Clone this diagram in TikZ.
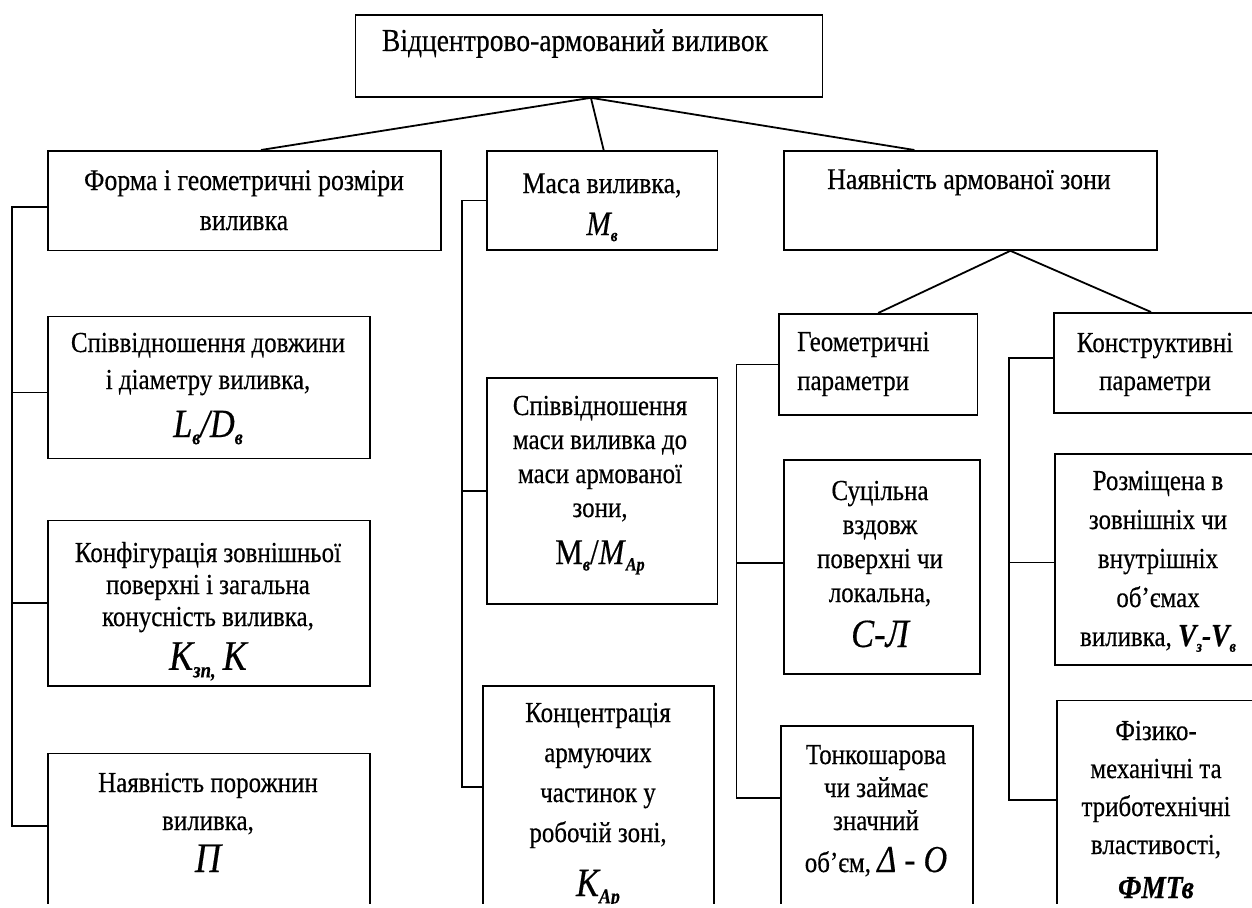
\documentclass[tikz,border=0pt]{standalone}
\usepackage{fontspec}
\usepackage{graphicx}
\setmainfont{Liberation Serif}[FakeStretch=0.86,FakeBold=0.4]
\newcommand\sbb[1]{\raisebox{-0.18em}{\scalebox{0.52}{\bfseries\itshape #1}}}
\newcommand\tb[3]{\parbox[t]{420pt}{\centering\fontsize{#1}{#2}\selectfont #3}}
\tikzset{
  box/.style={draw=black, line width=1.8pt, inner sep=0pt, anchor=north west},
  conn/.style={draw=black, line width=1.8pt},
  txt/.style={anchor=base, inner sep=0pt, text=black}
}
\begin{document}
\begin{tikzpicture}[x=1pt,y=-1pt]
\useasboundingbox (0,0) rectangle (1252,907);
\fill[white] (0,0) rectangle (1252,907);
\clip (0,0) rectangle (1252,903);
% boxes
\node[box, minimum width=467pt, minimum height=82pt] (top) at (354.5,14) {};
\node[box, minimum width=393pt, minimum height=99.5pt] (form) at (47,150) {};
\node[box, minimum width=230.5pt, minimum height=99pt] (masa) at (486,150) {};
\node[box, minimum width=373pt, minimum height=99pt] (nayav) at (783,150) {};
\node[box, minimum width=322pt, minimum height=142pt] (ld) at (47,315.5) {};
\node[box, minimum width=322pt, minimum height=165.5pt] (konf) at (47,519.5) {};
\node[box, minimum width=322pt, minimum height=250pt] (poroz) at (47,752.5) {};
\node[box, minimum width=230.5pt, minimum height=226pt] (spm) at (486,377) {};
\node[box, minimum width=231pt, minimum height=300pt] (konc) at (482,685) {};
\node[box, minimum width=198.5pt, minimum height=101pt] (geom) at (778,313) {};
\node[box, minimum width=247pt, minimum height=100pt] (konstr) at (1053,312) {};
\node[box, minimum width=196pt, minimum height=213.5pt] (suc) at (783,459.3) {};
\node[box, minimum width=192pt, minimum height=300pt] (tonk) at (780,725) {};
\node[box, minimum width=246pt, minimum height=211pt] (rozm) at (1054,453) {};
\node[box, minimum width=244pt, minimum height=300pt] (fiz) at (1056,699.5) {};
% texts
\node[txt] (ttop) at (575,51) {\tb{32}{35}{Відцентрово-армований виливок}};
\node[txt] (tform) at (244,190) {\tb{30}{40}{Форма і геометричні розміри\\виливка}};
\node[txt] (tmasa) at (602,193) {\tb{30}{42}{Маса виливка,\\{\fontsize{34}{34}\selectfont\itshape M\sbb{в}}}};
\node[txt] (tnayav) at (969,189) {\tb{30}{35}{Наявність армованої зони}};
\node[txt] (tld) at (208,352) {\tb{29}{37}{Співвідношення довжини\\і діаметру виливка,\\[11pt]{\fontsize{40}{40}\selectfont\itshape L\sbb{в}/D\sbb{в}}}};
\node[txt] (tkonf) at (208,562) {\tb{29}{32}{Конфігурація зовнішньої\\поверхні і загальна\\конусність виливка,\\[9pt]{\fontsize{42}{42}\selectfont\itshape K\sbb{зп,}\,K}}};
\node[txt] (tporoz) at (208,792) {\tb{29}{38}{Наявність порожнин\\виливка,\\[4pt]{\fontsize{42}{42}\selectfont\itshape П}}};
\node[txt] (tspm) at (600,415) {\tb{29}{34}{Співвідношення\\маси виливка до\\маси армованої\\зони,\\[13pt]{\fontsize{36}{36}\selectfont M\sbb{в}/\textit{M}\sbb{Ap}}}};
\node[txt] (tkonc) at (598,722) {\tb{29}{40}{Концентрація\\армуючих\\частинок у\\робочій зоні,\\[14pt]{\fontsize{40}{40}\selectfont\itshape K\sbb{Ap}}}};
\node[txt, anchor=base west] (tgeom) at (797,351) {\parbox[t]{200pt}{\raggedright\fontsize{29}{39}\selectfont Геометричні\\параметри}};
\node[txt] (tkonstr) at (1155,352) {\tb{29}{38}{Конструктивні\\параметри}};
\node[txt] (tsuc) at (880,500) {\tb{29}{34}{Суцільна\\вздовж\\поверхні чи\\локальна,\\[11pt]{\fontsize{40}{40}\selectfont\itshape С-Л}}};
\node[txt] (ttonk) at (876,764) {\tb{29}{33}{Тонкошарова\\чи займає\\значний\\[9pt]об’єм, {\fontsize{38}{38}\selectfont\itshape Δ - O}}};
\node[txt] (trozm) at (1158,490) {\tb{29}{39}{Розміщена в\\зовнішніх чи\\внутрішніх\\об’ємах\\виливка, {\fontsize{32}{32}\selectfont\bfseries\itshape V\sbb{з}-V\sbb{в}}}};
\node[txt] (tfiz) at (1156,740) {\tb{29}{38}{Фізико-\\механічні та\\триботехнічні\\властивості,\\[6pt]{\fontsize{32}{32}\selectfont\bfseries\itshape ФМТв}}};
% connectors
\draw[conn] ([xshift=2pt]top.south) -- ([xshift=16.5pt]form.north);
\draw[conn] ([xshift=2pt]top.south) -- ([xshift=1.5pt]masa.north);
\draw[conn] ([xshift=2pt]top.south) -- ([xshift=-56pt]nayav.north);
\draw[conn] ([xshift=40pt]nayav.south) -- (geom.north);
\draw[conn] ([xshift=40pt]nayav.south) -- ([xshift=98pt]konstr.north west);
% left tree
\coordinate (lvb) at (12,825.7);
\draw[conn] ([yshift=-6pt]form.west) -| (lvb) -- (lvb -| poroz.west);
\draw[conn] ([yshift=-5pt]ld.west) -- ([yshift=-5pt]ld.west -| lvb);
\draw[conn] (konf.west) -- (konf.west -| lvb);
% middle tree
\coordinate (mvb) at (461.7,787);
\draw[conn] (masa.west) -| (mvb) -- (mvb -| konc.west);
\draw[conn] (spm.west) -- (spm.west -| mvb);
% geometric tree
\coordinate (gvb) at (736.5,798);
\draw[conn] (geom.west) -| (gvb) -- (gvb -| tonk.west);
\draw[conn] ([yshift=4pt]suc.west) -- ([yshift=4pt]suc.west -| gvb);
% constructive tree
\coordinate (kvb) at (1009.3,800);
\draw[conn] ([yshift=5pt]konstr.west) -| (kvb) -- (kvb -| fiz.west);
\draw[conn] ([yshift=-3pt]rozm.west) -- ([yshift=-3pt]rozm.west -| kvb);
\end{tikzpicture}
\end{document}
